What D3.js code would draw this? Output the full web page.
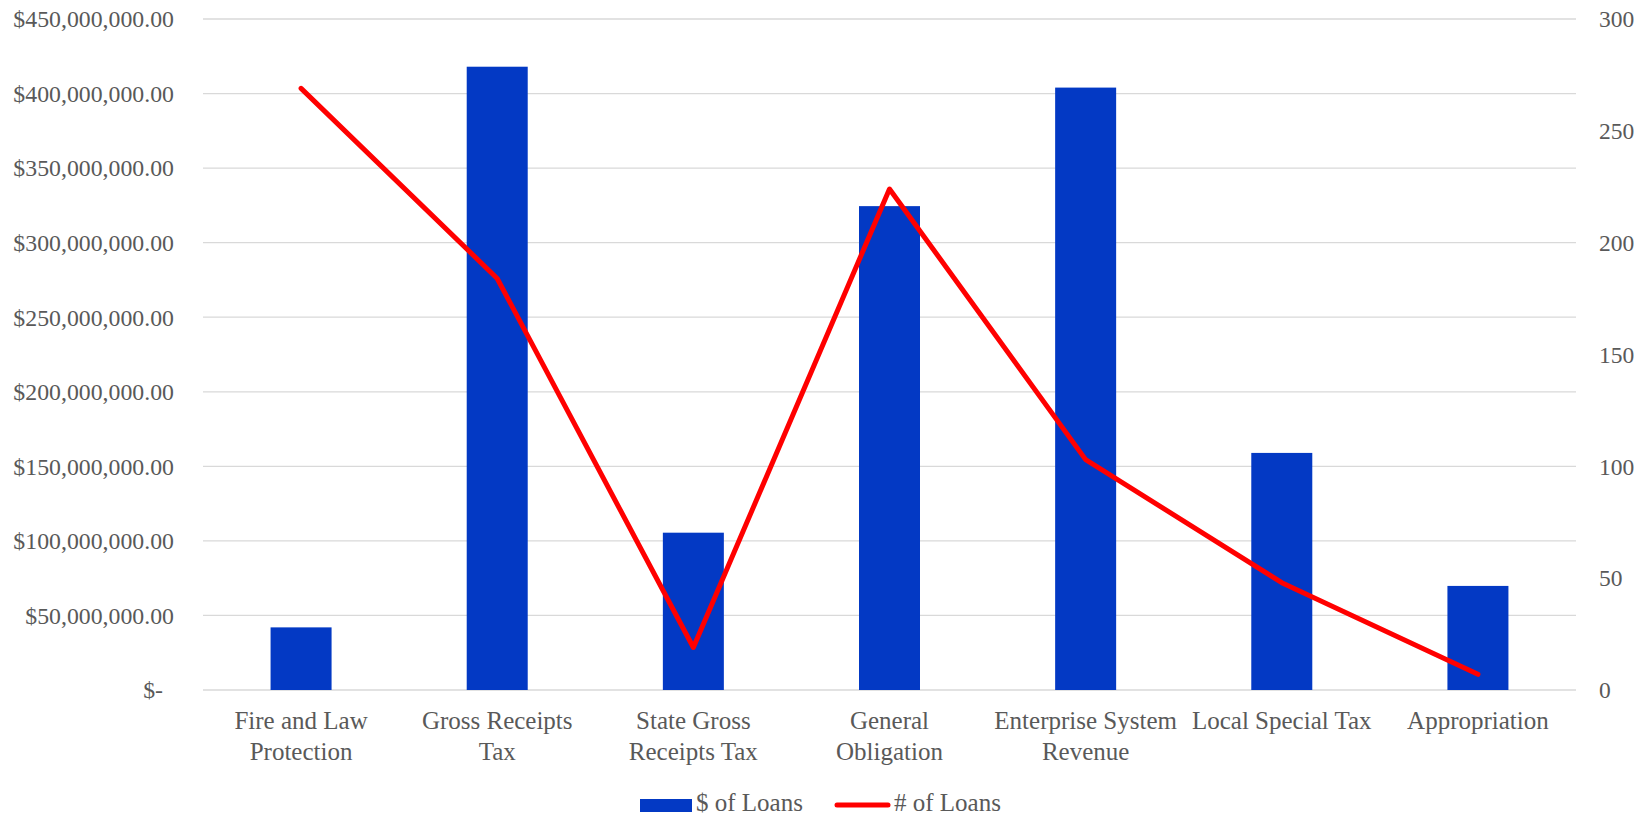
<!DOCTYPE html>
<html>
<head>
<meta charset="utf-8">
<script src="https://cdn.jsdelivr.net/npm/d3@7"></script>
<style>
  body { margin: 0; background: #fff; }
  svg text { font-family: "Liberation Serif", "Times New Roman", serif; fill: #595959; }
</style>
</head>
<body>
<svg id="chart" width="1650" height="815"></svg>
<script>
var categories = ["Fire and Law Protection", "Gross Receipts Tax", "State Gross Receipts Tax",
  "General Obligation", "Enterprise System Revenue", "Local Special Tax", "Appropriation"];
var labelLines = [["Fire and Law", "Protection"], ["Gross Receipts", "Tax"], ["State Gross", "Receipts Tax"],
  ["General", "Obligation"], ["Enterprise System", "Revenue"], ["Local Special Tax"], ["Appropriation"]];
var dollarLoans = [42000000, 418000000, 105500000, 324500000, 404000000, 159000000, 69800000];
var countLoans = [269, 184, 19, 224, 103, 48, 7];
var leftTicks = [0, 50e6, 100e6, 150e6, 200e6, 250e6, 300e6, 350e6, 400e6, 450e6];
var rightTicks = [0, 50, 100, 150, 200, 250, 300];

(function() {
  var svg = d3.select("#chart"),
      left = 203, right = 1576, top = 19, bottom = 690;

  var x = d3.scaleBand()
    .domain(categories)
    .range([left, right])
    .paddingInner(0.689)
    .paddingOuter(0.689 / 2);
  var y = d3.scaleLinear().domain([0, 450e6]).range([bottom, top]);
  var y2 = d3.scaleLinear().domain([0, 300]).range([bottom, top]);

  // gridlines
  svg.append("g").selectAll("line")
    .data(leftTicks)
    .enter().append("line")
      .attr("x1", left).attr("x2", right)
      .attr("y1", function(d) { return y(d); })
      .attr("y2", function(d) { return y(d); })
      .attr("stroke", "#d9d9d9")
      .attr("stroke-width", 1.3);

  // left axis labels
  var fmt = d3.format(",.2f");
  svg.append("g").selectAll("text")
    .data(leftTicks)
    .enter().append("text")
      .attr("x", function(d) { return d === 0 ? 163 : 174; })
      .attr("y", function(d) { return y(d); })
      .attr("dy", "0.35em")
      .attr("text-anchor", "end")
      .style("font-size", "23.8px")
      .text(function(d) { return d === 0 ? "$-" : "$" + fmt(d); });

  // right axis labels
  svg.append("g").selectAll("text")
    .data(rightTicks)
    .enter().append("text")
      .attr("x", 1599)
      .attr("y", function(d) { return y2(d); })
      .attr("dy", "0.35em")
      .style("font-size", "23.5px")
      .text(function(d) { return d; });

  // bars
  svg.append("g").selectAll("rect")
    .data(dollarLoans)
    .enter().append("rect")
      .attr("x", function(d, i) { return x(categories[i]); })
      .attr("width", x.bandwidth())
      .attr("y", function(d) { return y(d); })
      .attr("height", function(d) { return bottom - y(d); })
      .attr("fill", "#0339c4");

  // line
  var line = d3.line()
    .x(function(d, i) { return x(categories[i]) + x.bandwidth() / 2; })
    .y(function(d) { return y2(d); });
  svg.append("path")
    .datum(countLoans)
    .attr("d", line)
    .attr("fill", "none")
    .attr("stroke", "#ff0000")
    .attr("stroke-width", 5)
    .attr("stroke-linejoin", "round")
    .attr("stroke-linecap", "round");

  // category labels
  var labels = svg.append("g").selectAll("text")
    .data(labelLines)
    .enter().append("text")
      .attr("text-anchor", "middle")
      .style("font-size", "25px");
  labels.each(function(lines, i) {
    var cx = x(categories[i]) + x.bandwidth() / 2;
    d3.select(this).selectAll("tspan")
      .data(lines)
      .enter().append("tspan")
        .attr("x", cx)
        .attr("y", function(d, j) { return 729 + j * 31; })
        .text(function(d) { return d; });
  });

  // legend
  var legend = svg.append("g");
  legend.append("rect")
    .attr("x", 640).attr("y", 799).attr("width", 52).attr("height", 13)
    .attr("fill", "#0339c4");
  legend.append("text")
    .attr("x", 696).attr("y", 811)
    .style("font-size", "25px")
    .text("$ of Loans");
  legend.append("line")
    .attr("x1", 837).attr("x2", 888).attr("y1", 805).attr("y2", 805)
    .attr("stroke", "#ff0000").attr("stroke-width", 5)
    .attr("stroke-linecap", "round");
  legend.append("text")
    .attr("x", 894).attr("y", 811)
    .style("font-size", "25px")
    .text("# of Loans");
})();
</script>
</body>
</html>
